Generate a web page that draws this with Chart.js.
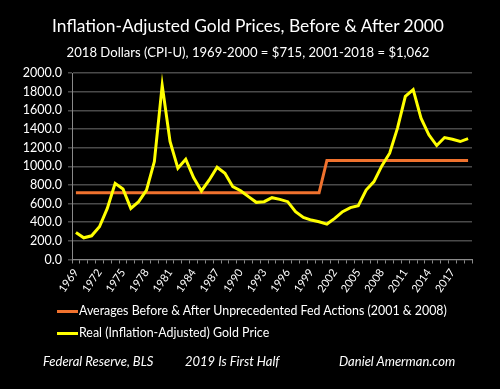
<!DOCTYPE html>
<html>
<head>
<meta charset="utf-8">
<script src="https://cdn.jsdelivr.net/npm/chart.js@4/dist/chart.umd.min.js"></script>
<style>
  body { margin: 0; background: #000; width: 500px; height: 389px; overflow: hidden; position: relative; font-family: Lato, sans-serif; color: #fff; }
  #chart { position: absolute; left: 0; top: 0; }
  .title { position: absolute; left: 0; width: 496px; text-align: center; top: 15px; font-size: 17.4px; line-height: 22px; }
  .subtitle { position: absolute; left: 0; width: 496px; text-align: center; top: 43px; font-size: 13.1px; line-height: 18px; }
  #legend { position: absolute; left: 57px; top: 300px; font-size: 12.4px; }
  #legend div { height: 22px; line-height: 18px; display: flex; align-items: center; }
  #legend span.sw { display: inline-block; width: 21px; height: 3px; margin-right: 1px; }
  .foot { position: absolute; top: 352px; font-style: italic; font-size: 13px; line-height: 18px; }
</style>
</head>
<body>
<canvas id="chart" width="500" height="389"></canvas>
<div class="title">Inflation-Adjusted Gold Prices, Before &amp; After 2000</div>
<div class="subtitle">2018 Dollars (CPI-U), 1969-2000 = $715, 2001-2018 = $1,062</div>
<div id="legend"></div>
<div class="foot" style="left:43px">Federal Reserve, BLS</div>
<div class="foot" style="left:185px">2019 Is First Half</div>
<div class="foot" style="left:339px">Daniel Amerman.com</div>
<script>
// ----- DATA -----
const years = [];
for (let y = 1969; y <= 2019; y++) years.push(String(y));

const goldPrice = [
    290, 233, 254, 351, 548, 817, 756, 548, 620, 745,
    1050, 1867, 1265, 978, 1075, 878, 735, 853, 989, 925,
    781, 738, 674, 613, 620, 663, 645, 620, 513, 452,
    423, 405, 380, 441, 513, 556, 577, 745, 835, 1004,
    1140, 1409, 1749, 1821, 1516, 1337, 1222, 1308, 1290, 1265,
    1297
];

const averages = [
    715, 715, 715, 715, 715, 715, 715, 715, 715, 715,
    715, 715, 715, 715, 715, 715, 715, 715, 715, 715,
    715, 715, 715, 715, 715, 715, 715, 715, 715, 715,
    715, 715, 1062, 1062, 1062, 1062, 1062, 1062, 1062, 1062,
    1062, 1062, 1062, 1062, 1062, 1062, 1062, 1062, 1062, 1062,
    1062
];

const seriesNames = [
    "Averages Before & After Unprecedented  Fed Actions (2001 & 2008)",
    "Real (Inflation-Adjusted) Gold Price"
];
const seriesColors = ["#F0722E", "#FFFF00"];

// ----- LEGEND -----
const legend = document.getElementById("legend");
seriesNames.forEach((name, i) => {
    const row = document.createElement("div");
    const sw = document.createElement("span");
    sw.className = "sw";
    sw.style.background = seriesColors[i];
    row.appendChild(sw);
    row.appendChild(document.createTextNode(name));
    legend.appendChild(row);
});

// ----- CHART -----
new Chart(document.getElementById("chart"), {
    type: "line",
    data: {
        labels: years,
        datasets: [
            {
                label: seriesNames[0],
                data: averages,
                borderColor: seriesColors[0],
                borderWidth: 3,
                pointRadius: 0,
                tension: 0,
                order: 2
            },
            {
                label: seriesNames[1],
                data: goldPrice,
                borderColor: seriesColors[1],
                borderWidth: 3,
                pointRadius: 0,
                tension: 0,
                order: 1
            }
        ]
    },
    options: {
        responsive: false,
        animation: false,
        layout: { padding: { top: 73, right: 28, bottom: 94, left: 0 } },
        plugins: {
            legend: { display: false },
            tooltip: { enabled: false }
        },
        scales: {
            x: {
                offset: true,
                grid: {
                    offset: true,
                    drawOnChartArea: false,
                    drawTicks: true,
                    tickLength: 4,
                    color: "#8a8a8a"
                },
                border: { color: "#8a8a8a", width: 1 },
                ticks: {
                    autoSkip: false,
                    minRotation: 55,
                    maxRotation: 55,
                    color: "#fff",
                    font: { family: "Lato", size: 11 },
                    padding: 3,
                    callback: function (v, i) {
                        return i % 3 === 0 ? this.getLabelForValue(v) : "";
                    }
                },
                afterFit: (s) => { s.height = 35.5; }
            },
            y: {
                min: 0,
                max: 2000,
                ticks: {
                    stepSize: 200,
                    color: "#fff",
                    font: { family: "Lato", size: 12.5 },
                    padding: 6,
                    callback: (v) => v.toFixed(1)
                },
                grid: { color: "#4a4a4a", tickLength: 4, lineWidth: 1.5 },
                border: { color: "#8a8a8a", width: 1 },
                afterFit: (s) => { s.width = 72; }
            }
        }
    }
});
</script>
</body>
</html>
